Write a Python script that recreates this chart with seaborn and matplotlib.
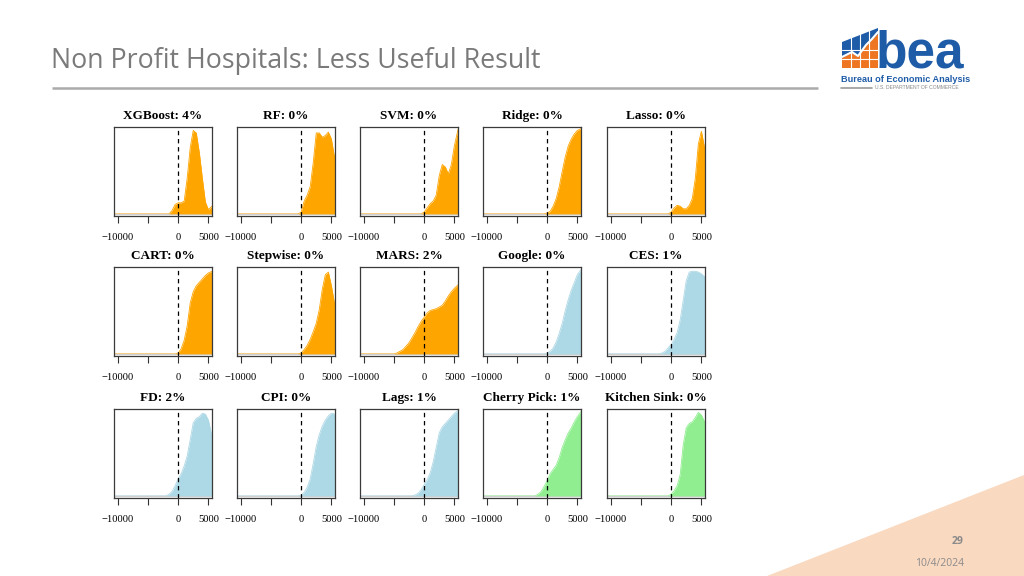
import matplotlib
matplotlib.use("Agg")
import matplotlib.pyplot as plt
import pandas as pd
import seaborn as sns
from matplotlib.patches import Polygon

# ---------------- data ----------------
MODELS = ["XGBoost", "RF", "SVM", "Ridge", "Lasso",
          "CART", "Stepwise", "MARS", "Google", "CES",
          "FD", "CPI", "Lags", "Cherry Pick", "Kitchen Sink"]
PCT = [4, 0, 0, 0, 0,
       0, 0, 2, 0, 1,
       2, 0, 1, 1, 0]
GROUP = ["ml", "ml", "ml", "ml", "ml",
         "ml", "ml", "ml", "alt", "alt",
         "alt", "alt", "alt", "combo", "combo"]
GROUP_COLORS = {"ml": "#FFA500", "alt": "#ADD8E6", "combo": "#90EE90"}

# x positions at which the density heights were read (scaled so the peak ~ 1)
X_GRID = [-10600, -5000, -4500, -4000, -3500, -3000, -2500, -2000, -1500, -1000, -500,
          0, 500, 1000, 1500, 2000, 2500, 3000, 3500, 4000, 4500, 5000, 5600]

XGBOOST = [0, 0, 0, 0, 0, 0, 0, 0, 0, 0.04, 0.11,
           0.13, 0.13, 0.15, 0.42, 0.78, 0.98, 0.95, 0.72, 0.42, 0.14, 0.05, 0.09]
RF = [0, 0, 0, 0, 0, 0, 0, 0, 0, 0, 0,
      0.02, 0.15, 0.22, 0.32, 0.60, 0.95, 0.95, 0.90, 0.92, 0.96, 0.88, 0.63]
SVM = [0, 0, 0, 0, 0, 0, 0, 0, 0, 0, 0,
       0.02, 0.07, 0.12, 0.15, 0.22, 0.45, 0.58, 0.55, 0.47, 0.58, 0.80, 0.99]
RIDGE = [0, 0, 0, 0, 0, 0, 0, 0, 0, 0, 0,
         0.01, 0.03, 0.09, 0.18, 0.32, 0.50, 0.67, 0.80, 0.88, 0.94, 0.98, 1.00]
LASSO = [0, 0, 0, 0, 0, 0, 0, 0, 0, 0, 0,
         0.02, 0.07, 0.10, 0.09, 0.06, 0.06, 0.10, 0.18, 0.42, 0.82, 0.97, 0.75]
CART = [0, 0, 0, 0, 0, 0, 0, 0, 0, 0, 0,
        0.01, 0.06, 0.16, 0.33, 0.60, 0.73, 0.80, 0.84, 0.88, 0.92, 0.95, 0.97]
STEPWISE = [0, 0, 0, 0, 0, 0, 0, 0, 0, 0, 0,
            0.01, 0.05, 0.10, 0.17, 0.26, 0.36, 0.52, 0.76, 0.93, 0.96, 0.80, 0.56]
MARS = [0, 0, 0.01, 0.03, 0.05, 0.09, 0.13, 0.19, 0.25, 0.32, 0.38,
        0.43, 0.48, 0.51, 0.52, 0.53, 0.55, 0.57, 0.62, 0.68, 0.73, 0.77, 0.81]
GOOGLE = [0, 0, 0, 0, 0, 0, 0, 0, 0, 0, 0,
          0.01, 0.03, 0.07, 0.14, 0.24, 0.36, 0.51, 0.64, 0.75, 0.84, 0.93, 0.99]
CES = [0, 0, 0, 0, 0, 0, 0, 0, 0.01, 0.03, 0.07,
       0.11, 0.17, 0.25, 0.40, 0.63, 0.86, 0.96, 0.97, 0.97, 0.96, 0.94, 0.90]
FD = [0, 0, 0, 0, 0, 0, 0, 0, 0.02, 0.05, 0.12,
      0.20, 0.26, 0.35, 0.47, 0.66, 0.86, 0.91, 0.93, 0.97, 0.96, 0.89, 0.70]
CPI = [0, 0, 0, 0, 0, 0, 0, 0, 0, 0, 0,
       0.01, 0.04, 0.10, 0.20, 0.38, 0.58, 0.72, 0.82, 0.89, 0.94, 0.97, 0.96]
LAGS = [0, 0, 0, 0, 0, 0, 0, 0, 0.01, 0.03, 0.07,
        0.13, 0.19, 0.27, 0.40, 0.57, 0.74, 0.81, 0.85, 0.89, 0.93, 0.97, 1.00]
CHERRY_PICK = [0, 0, 0, 0, 0, 0, 0, 0, 0.02, 0.05, 0.11,
               0.18, 0.26, 0.31, 0.36, 0.45, 0.57, 0.66, 0.74, 0.80, 0.87, 0.93, 0.99]
KITCHEN_SINK = [0, 0, 0, 0, 0, 0, 0, 0, 0, 0, 0,
                0.02, 0.06, 0.12, 0.25, 0.60, 0.80, 0.85, 0.87, 0.92, 0.98, 0.95, 0.86]

DENSITIES = [XGBOOST, RF, SVM, RIDGE, LASSO,
             CART, STEPWISE, MARS, GOOGLE, CES,
             FD, CPI, LAGS, CHERRY_PICK, KITCHEN_SINK]

X_TICKS = [-10000, -5000, 0, 5000]
X_TICK_LABELS = ["\u221210000", "", "0", "5000"]

# ---------------- figure ----------------
sns.set_theme(style="white")
plt.rcParams['font.family'] = ['Liberation Serif', 'DejaVu Serif']

W, H = 1024, 576
fig = plt.figure(figsize=(W / 100, H / 100), dpi=100)
fig.patch.set_facecolor("white")

# background layer in pixel coordinates
bg = fig.add_axes([0, 0, 1, 1], zorder=0)
bg.set_xlim(0, W)
bg.set_ylim(H, 0)
bg.axis("off")

# peach triangle bottom right
bg.add_patch(Polygon([[767, 576], [1024, 475], [1024, 576]], closed=True,
                     facecolor="#FAD9C1", edgecolor="none"))
bg.text(958, 541, "29", ha="center", va="center", fontsize=7.5, color="#8a8a8a",
        fontweight="bold", family=["Open Sans", "DejaVu Sans"])
bg.text(940, 563, "10/4/2024", ha="center", va="center", fontsize=7.5, color="#8a8a8a",
        family=["Open Sans", "DejaVu Sans"])

# slide title and rule
bg.text(51, 61, "Non Profit Hospitals: Less Useful Result", ha="left", va="center",
        fontsize=19.3, color="#7a7a7a", family=["Open Sans", "DejaVu Sans"])
bg.plot([52, 818], [87.5, 87.5], color="#ababab", lw=1.8, solid_capstyle="butt")

# BEA logo (approximation)
blue = "#1E5CA8"
orange = "#EE7623"
bg.add_patch(Polygon([[842, 42], [878, 28], [878, 68], [842, 68]], closed=True,
                     facecolor=blue, edgecolor="none"))
bg.add_patch(Polygon([[842, 68], [842, 58], [852, 53], [858, 57], [866, 46],
                      [872, 40], [878, 34], [878, 68]], closed=True,
                     facecolor=orange, edgecolor="none"))
for gx in [851, 860, 869]:
    bg.plot([gx, gx], [27, 68], color="white", lw=0.8)
for gy in [50, 59]:
    bg.plot([842, 878], [gy, gy], color="white", lw=0.8)
bg.plot([842, 852, 858, 866, 872, 878], [57, 52, 56, 45, 39, 32], color="white", lw=1.5)
bg.text(876, 67.5, "bea", ha="left", va="baseline", fontsize=37, fontweight="bold",
        color=blue, family=["Liberation Sans", "DejaVu Sans"])
bg.text(841, 79, "Bureau of Economic Analysis", ha="left", va="center", fontsize=6.6,
        fontweight="bold", color=blue, family=["Liberation Sans", "DejaVu Sans"])
bg.plot([841, 872], [87.5, 87.5], color="#9a9a9a", lw=1.2)
bg.text(875, 87.5, "U.S. DEPARTMENT OF COMMERCE", ha="left", va="center", fontsize=3.6,
        color="#8a8a8a", family=["Liberation Sans", "DejaVu Sans"])

# panel grid (pixel boxes)
COL_LEFT = [114, 237, 360, 483, 607]
ROW_TOP = [127, 267, 409]
BOX_W, BOX_H = 98, 89

for i, (name, p, dens, grp) in enumerate(zip(MODELS, PCT, DENSITIES, GROUP)):
    r, c = divmod(i, 5)
    left = COL_LEFT[c] / W
    bottom = 1 - (ROW_TOP[r] + BOX_H) / H
    ax = fig.add_axes([left, bottom, BOX_W / W, BOX_H / H], zorder=2)
    ax.set_facecolor("white")
    col = GROUP_COLORS[grp]
    df = pd.DataFrame({"x": X_GRID, "y": dens})

    sns.lineplot(data=df, x="x", y="y", ax=ax, color=col, lw=0.6, zorder=1)
    ax.axhline(0, color="#cfcfcf", lw=1.0, zorder=1.5)
    ax.fill_between(df["x"], 0, df["y"], color=col, lw=0, zorder=2)
    ax.axvline(0, color="black", lw=0.9, ls=(0, (3.5, 3)), zorder=4)

    ax.set_xlim(-10600, 5600)
    ax.set_ylim(-0.025, 1.02)
    ax.set_xticks(X_TICKS)
    ax.set_xticklabels(X_TICK_LABELS)
    ax.set_yticks([])
    ax.set_xlabel("")
    ax.set_ylabel("")
    ax.tick_params(axis="x", which="both", bottom=True, direction="out", length=5,
                   width=0.8, color="#333333", labelsize=7.6, pad=7.5, labelcolor="black")
    for s in ax.spines.values():
        s.set_visible(True)
        s.set_color("#3a3a3a")
        s.set_linewidth(0.9)
    ax.set_title(f"{name}: {p}%", fontsize=9.5, fontweight="bold", pad=5.5, color="black")

fig.savefig("out.png", dpi=100, facecolor="white")
